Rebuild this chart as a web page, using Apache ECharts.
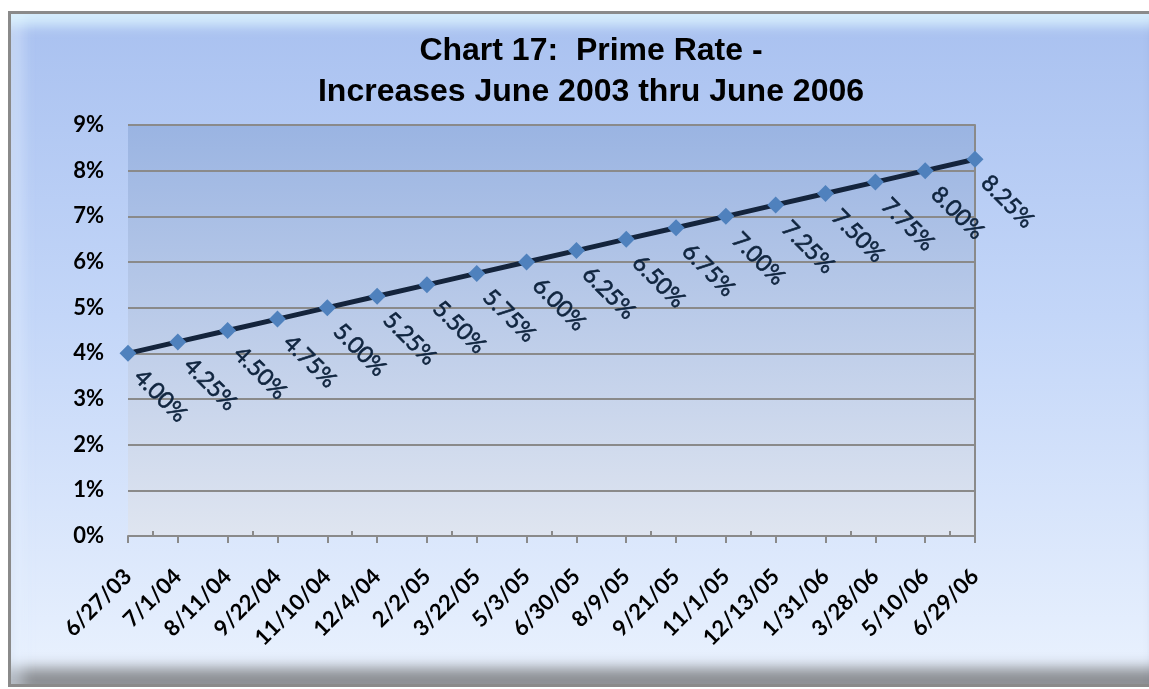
<!DOCTYPE html>
<html>
<head>
<meta charset="utf-8">
<script src="https://cdn.jsdelivr.net/npm/echarts@6/dist/echarts.min.js"></script>
<style>
html, body { margin: 0; padding: 0; background: #ffffff; overflow: hidden; }
.frame {
  position: absolute;
  left: 8px; top: 11px; width: 1170px; height: 676px;
  border: 3px solid #8a8a8a;
  background: linear-gradient(to bottom, #a9c1f0 0%, #c3d6f8 45%, #eaf2fe 100%);
  box-shadow:
    inset 0 22px 12px -10px rgba(225, 248, 255, 0.75),
    inset 22px 0 14px -10px rgba(230, 242, 255, 0.45),
    inset -40px 0 14px -24px rgba(70, 90, 130, 0.55),
    inset 0 -24px 14px -8px rgba(90, 90, 90, 0.65);
  box-sizing: border-box;
}
#chart { position: absolute; left: 0; top: 0; width: 1149px; height: 689px; }
</style>
</head>
<body>
<div class="frame"></div>
<div id="chart"></div>
<script>
const titleText = 'Chart 17:  Prime Rate -\nIncreases June 2003 thru June 2006'
const dates = ['6/27/03', '7/1/04', '8/11/04', '9/22/04', '11/10/04', '12/4/04', '2/2/05', '3/22/05', '5/3/05',
  '6/30/05', '8/9/05', '9/21/05', '11/1/05', '12/13/05', '1/31/06', '3/28/06', '5/10/06', '6/29/06']
const rates = [4.00, 4.25, 4.50, 4.75, 5.00, 5.25, 5.50, 5.75, 6.00,
  6.25, 6.50, 6.75, 7.00, 7.25, 7.50, 7.75, 8.00, 8.25]

const gridTop = 125
const gridBottom = 153
const gridHeight = 689 - gridTop - gridBottom

const chart = echarts.init(document.getElementById('chart'))

const option = {
  animation: false,
  title: {
    text: titleText,
    left: 586,
    top: 26,
    textAlign: 'center',
    textStyle: {
      fontFamily: 'Liberation Sans',
      fontWeight: 'bold',
      fontSize: 32,
      lineHeight: 41,
      color: '#000000'
    }
  },
  grid: {
    left: 128,
    right: 174,
    top: gridTop,
    bottom: gridBottom,
    show: true,
    borderWidth: 0,
    backgroundColor: {
      type: 'linear', x: 0, y: 0, x2: 0, y2: 1,
      colorStops: [
        { offset: 0, color: '#9ab4e2' },
        { offset: 1, color: '#dfe5f0' }
      ]
    }
  },
  xAxis: [
    {
      type: 'category',
      data: dates,
      boundaryGap: false,
      axisLine: { show: true, lineStyle: { color: '#8a8a8a', width: 2 } },
      axisTick: { show: true, length: 7, lineStyle: { color: '#8a8a8a', width: 2 } },
      splitLine: { show: false },
      axisLabel: {
        rotate: 45,
        margin: 37,
        interval: 0,
        color: '#000000',
        fontFamily: 'Lato',
        fontWeight: 'bold',
        fontSize: 22
      }
    },
    {
      // short inner ticks between the dates
      type: 'category',
      data: dates.slice(1),
      boundaryGap: true,
      position: 'top',
      offset: -gridHeight,
      axisLine: { show: false },
      axisTick: { show: true, alignWithLabel: true, length: 5, lineStyle: { color: '#8a8a8a', width: 2 } },
      axisLabel: { show: false }
    }
  ],
  yAxis: [
    {
      type: 'value',
      min: 0,
      max: 9,
      interval: 1,
      axisLine: { show: false },
      axisTick: { show: false },
      splitLine: { show: true, lineStyle: { color: '#8a8a8a', width: 2 } },
      axisLabel: {
        formatter: '{value}%',
        margin: 24,
        color: '#000000',
        fontFamily: 'Lato',
        fontWeight: 'bold',
        fontSize: 22
      }
    },
    {
      type: 'value',
      position: 'right',
      min: 0,
      max: 9,
      interval: 1,
      axisLine: { show: true, lineStyle: { color: '#8a8a8a', width: 2 } },
      axisTick: { show: false },
      splitLine: { show: false },
      axisLabel: { show: false }
    }
  ],
  series: [
    {
      type: 'line',
      data: rates,
      symbol: 'diamond',
      symbolSize: 17,
      lineStyle: { color: '#14243c', width: 5 },
      itemStyle: { color: '#4f81bd' },
      z: 5,
      label: {
        show: true,
        position: 'inside',
        offset: [21, 7],
        rotate: -45,
        align: 'left',
        verticalAlign: 'middle',
        color: '#0f243e',
        textBorderColor: '#0f243e',
        textBorderWidth: 0.6,
        fontFamily: 'Lato',
        fontSize: 23,
        formatter: (p) => p.value.toFixed(2) + '%'
      }
    }
  ]
}

chart.setOption(option)
</script>
</body>
</html>
